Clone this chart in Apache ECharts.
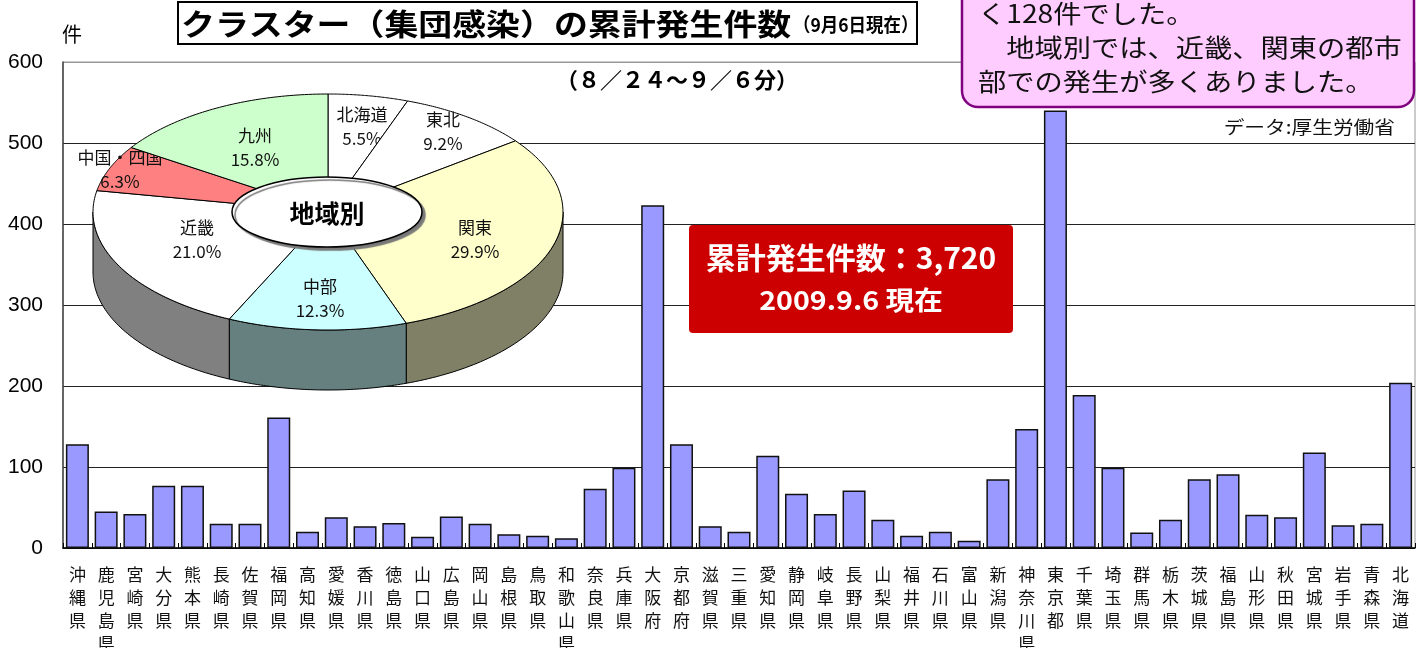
<!DOCTYPE html>
<html>
<head>
<meta charset="utf-8">
<script src="https://cdn.jsdelivr.net/npm/echarts@6/dist/echarts.min.js"></script>
<style>
  html, body { margin: 0; padding: 0; background: #fff; }
  #chart { width: 1424px; height: 648px; }
</style>
</head>
<body>
<div id="chart"></div>
<script>
// 都道府県別 クラスター累計発生件数（8/24〜9/6）
const prefectures = ['沖縄県', '鹿児島県', '宮崎県', '大分県', '熊本県', '長崎県', '佐賀県', '福岡県',
  '高知県', '愛媛県', '香川県', '徳島県', '山口県', '広島県', '岡山県', '島根県', '鳥取県',
  '和歌山県', '奈良県', '兵庫県', '大阪府', '京都府', '滋賀県', '三重県',
  '愛知県', '静岡県', '岐阜県', '長野県', '山梨県', '福井県', '石川県', '富山県', '新潟県',
  '神奈川県', '東京都', '千葉県', '埼玉県', '群馬県', '栃木県', '茨城県',
  '福島県', '山形県', '秋田県', '宮城県', '岩手県', '青森県', '北海道']
const counts = [128, 45, 42, 77, 77, 30, 30, 161,
  20, 38, 27, 31, 14, 39, 30, 17, 15,
  12, 73, 99, 423, 128, 27, 20,
  114, 67, 42, 71, 35, 15, 20, 9, 85,
  147, 540, 189, 99, 19, 35, 85,
  91, 41, 38, 118, 28, 30, 204]
const yTicks = [0, 100, 200, 300, 400, 500, 600]

// 地域別の割合（%）
const regionNames = ['北海道', '東北', '関東', '中部', '近畿', '中国・四国', '九州']
const regionShares = [5.5, 9.2, 29.9, 12.3, 21.0, 6.3, 15.8]

const JP = '"Noto Sans CJK JP", sans-serif'
const NUM = '"Liberation Sans", Arial, sans-serif'

// pie look
const topColors = ['#ffffff', '#ffffff', '#ffffcc', '#ccffff', '#ffffff', '#ff8080', '#ccffcc']
const sideColors = ['#808080', '#808080', '#808066', '#668080', '#808080', '#804040', '#668066']
const pie = { cx: 328, cy: 212, rx: 235, ry: 118, depth: 60 }
const labelPos = [[362, 127], [443, 132], [475, 240], [320, 299], [197, 240], [120, 170], [255, 148]]

const starts = []
regionShares.reduce((acc, v) => { starts.push(acc); return acc + v }, 0)

function ellPt(a, dy) {
  return [pie.cx + pie.rx * Math.sin(a), pie.cy - pie.ry * Math.cos(a) + (dy || 0)]
}

function renderSlice(params, api) {
  const i = params.dataIndex
  const share = api.value(0)
  const start = api.value(1)
  const a1 = start / 100 * Math.PI * 2
  const a2 = (start + share) / 100 * Math.PI * 2
  const n = 60
  const top = [[pie.cx, pie.cy]]
  for (let k = 0; k <= n; k++) top.push(ellPt(a1 + (a2 - a1) * k / n))
  const children = []
  const f1 = Math.max(a1, Math.PI / 2)
  const f2 = Math.min(a2, Math.PI * 1.5)
  if (f2 > f1) {
    const side = []
    for (let k = 0; k <= n; k++) side.push(ellPt(f1 + (f2 - f1) * k / n))
    for (let k = n; k >= 0; k--) side.push(ellPt(f1 + (f2 - f1) * k / n, pie.depth))
    children.push({
      type: 'polygon', shape: { points: side },
      style: { fill: sideColors[i], stroke: '#000', lineWidth: 1 }
    })
  }
  children.push({
    type: 'polygon', shape: { points: top },
    style: { fill: topColors[i], stroke: '#000', lineWidth: 1 }
  })
  children.push({
    type: 'text', x: labelPos[i][0], y: labelPos[i][1],
    style: {
      text: regionNames[i] + '\n' + share.toFixed(1) + '%',
      fill: '#111', fontSize: 17, fontFamily: JP, lineHeight: 24,
      textAlign: 'center', textVerticalAlign: 'middle', align: 'center', verticalAlign: 'middle'
    }
  })
  return { type: 'group', children }
}

function txt(x, y, text, opt) {
  return {
    type: 'text', x, y, z: 100, scaleX: opt.sx || 1,
    style: Object.assign({
      text, fill: '#000', fontFamily: JP, fontSize: 18,
      textAlign: opt.align || 'left', align: opt.align || 'left',
      textVerticalAlign: 'middle', verticalAlign: 'middle'
    }, opt.style)
  }
}

const chart = echarts.init(document.getElementById('chart'))
chart.setOption({
  animation: false,
  grid: {
    left: 63, right: 9, top: 62, bottom: 100, outerBoundsMode: 'none', containLabel: false,
    show: true, borderColor: '#999', borderWidth: 1
  },
  xAxis: {
    type: 'category',
    data: prefectures,
    axisLine: { lineStyle: { color: '#000', width: 1.5 } },
    axisTick: { show: true, inside: true, length: 5, lineStyle: { color: '#000' } },
    axisLabel: {
      interval: 0, margin: 15, color: '#111', fontSize: 17, lineHeight: 23, fontFamily: JP,
      formatter: (v) => v.split('').join('\n')
    }
  },
  yAxis: {
    type: 'value', min: yTicks[0], max: yTicks[yTicks.length - 1], interval: 100,
    axisLine: { show: true, lineStyle: { color: '#444', width: 1.5 } },
    axisTick: { show: false },
    axisLabel: { color: '#000', fontSize: 21, fontFamily: NUM, margin: 20 },
    splitLine: { lineStyle: { color: ['#222', '#222', '#222', '#222', '#222', '#222', '#999'], width: 1 } }
  },
  series: [
    {
      type: 'bar',
      data: counts,
      barCategoryGap: '20%',
      itemStyle: { color: '#9999ff', borderColor: '#111', borderWidth: 1.5 }
    },
    {
      type: 'custom',
      coordinateSystem: 'none',
      z: 10,
      renderItem: renderSlice,
      data: regionShares.map((v, i) => [v, starts[i]])
    }
  ],
  graphic: [
    // title
    { type: 'rect', z: 100, shape: { x: 178, y: 2, width: 739, height: 42 }, style: { fill: '#fff', stroke: '#000', lineWidth: 2 } },
    txt(181, 24, 'クラスター（集団感染）の累計発生件数', { sx: 1.13, style: { fontSize: 30, fontWeight: 'bold' } }),
    txt(793, 25, '（9月6日現在）', { sx: 0.92, style: { fontSize: 19, fontWeight: 'bold' } }),
    txt(62, 34, '件', { style: { fontSize: 20 } }),
    txt(556, 80, '（８／２４～９／６分）', { style: { fontSize: 22, fontWeight: 'bold' } }),
    // callout
    { type: 'rect', z: 100, shape: { x: 962, y: -30, width: 452, height: 137, r: 16 }, style: { fill: '#ffccff', stroke: '#800080', lineWidth: 2.5 } },
    txt(978, 47, 'く128件でした。\n　地域別では、近畿、関東の都市\n部での発生が多くありました。',
      { sx: 1.13, style: { fontSize: 25, lineHeight: 34, fill: '#111' } }),
    txt(1395, 127, 'データ:厚生労働省', { align: 'right', sx: 1.15, style: { fontSize: 18, fill: '#111' } }),
    // total box
    { type: 'rect', z: 100, shape: { x: 689, y: 225, width: 324, height: 108, r: 4 }, style: { fill: '#cc0000' } },
    txt(851, 258, '累計発生件数：3,720', { align: 'center', style: { fontSize: 30, fontWeight: 'bold', fill: '#fff' } }),
    txt(851, 300, '2009.9.6 現在', { align: 'center', sx: 1.1, style: { fontSize: 26, fontWeight: 'bold', fill: '#fff' } }),
    // pie centre label
    {
      type: 'ellipse', z: 100, shape: { cx: 327, cy: 212, rx: 95, ry: 35 },
      style: { fill: '#fff', stroke: '#000', lineWidth: 1.5, shadowColor: '#777', shadowOffsetX: 3, shadowOffsetY: 3, shadowBlur: 1 }
    },
    txt(327, 213, '地域別', { align: 'center', style: { fontSize: 25, fontWeight: 'bold' } })
  ]
})
</script>
</body>
</html>
